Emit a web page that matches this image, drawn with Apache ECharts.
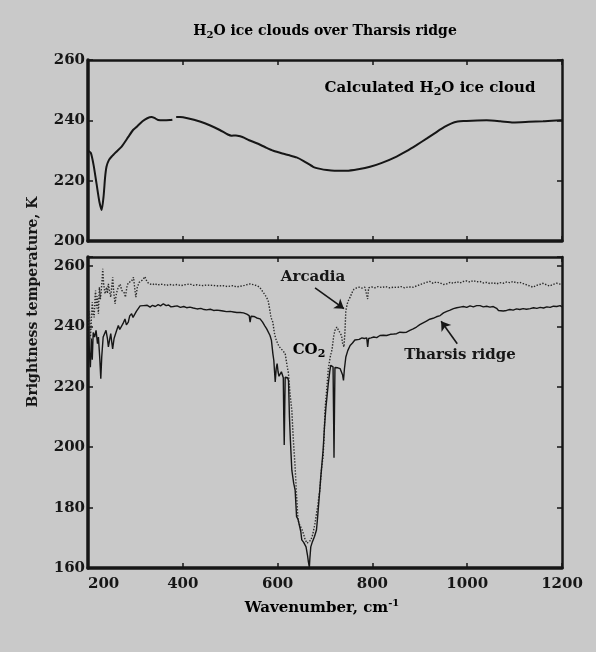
<!DOCTYPE html>
<html><head><meta charset="utf-8">
<script src="https://cdn.jsdelivr.net/npm/echarts@6/dist/echarts.min.js"></script>
<style>html,body{margin:0;padding:0;background:#c9c9c9}#c{width:596px;height:652px}</style>
</head><body><div id="c"></div>
<script>
// ---- data (wavenumber cm^-1, brightness temperature K) ----
const xTicks = [200, 400, 600, 800, 1000, 1200];
const calcCloud = [[200,230],[206,229.2],[212,225],[218,219],[224,213],[229,210.3],[233,215],[236,221],[239,224.6],[244,226.8],[250,228],[260,229.6],[271,231.3],[285,234.5],[295,236.8],[303,237.9],[315,239.7],[325,240.7],[334,241.1],[340,240.8],[348,240.1],[360,240],[373,240.1],[378,240.2],[381,null],[386,241.1],[394,241.1],[410,240.7],[436,239.6],[458,238.3],[478,236.8],[495,235.3],[503,234.9],[512,235],[521,234.7],[530,234.2],[540,233.4],[556,232.4],[575,231],[591,229.9],[610,229],[625,228.4],[640,227.7],[655,226.5],[675,224.6],[690,223.9],[704,223.5],[720,223.3],[746,223.3],[770,223.8],[795,224.6],[820,225.9],[851,228],[872,229.8],[893,231.8],[915,234],[936,236.2],[952,237.8],[967,239],[980,239.6],[992,239.8],[1010,239.9],[1041,240],[1070,239.7],[1097,239.3],[1130,239.5],[1160,239.7],[1196,240],[1200,240]];
const tharsis = [[201,240],[203,231],[205,226.5],[207,236],[209,229],[211,238],[214,236.5],[217,238.7],[220,234.3],[222,236.5],[225,229],[227,222.7],[229,230],[232,236.5],[235,237],[238,238.7],[241,236],[243,233.2],[246,236],[248,237.6],[250,235],[252,232.6],[255,236],[257,237],[260,238.5],[264,240.3],[267,239],[271,238.7],[274,241],[278,242.5],[281,240.5],[285,241.4],[288,243.5],[292,244.2],[295,243],[299,242.5],[302,245],[306,245.9],[310,246.8],[314,246.2],[317,246.9],[321,246.3],[325,247],[331,246.4],[336,247],[342,246.6],[348,247.2],[353,246.8],[359,247.5],[365,246.9],[370,247.1],[375,246.5],[380,246.6],[388,246.8],[395,246.3],[402,246.6],[408,246.2],[415,246.4],[422,246.1],[430,245.8],[438,246],[445,245.6],[450,245.5],[458,245.7],[465,245.3],[472,245.4],[478,245.3],[485,245.1],[492,244.9],[500,245],[507,244.8],[514,244.6],[521,244.6],[528,244.5],[535,244.1],[540,243.6],[542,241.4],[544,243.4],[550,243.3],[556,242.8],[563,242.5],[568,241.5],[573,240.2],[577,239.2],[580,238.7],[584,237],[587,235.4],[590,231],[592,228.8],[594,224],[595,221.6],[597,226],[599,227.7],[601,225],[603,223.5],[605,223.2],[608,225],[610,224.9],[612,223],[613,210],[614,200.7],[615,212],[616,223.2],[619,223.5],[621,223],[623,222.1],[625,210],[627,202.3],[630,192.4],[634,188],[637,185.8],[639,180],[640,177],[643,176.2],[647,175.9],[649,172],[651,169.3],[655,168.5],[658,168],[660,167],[663,164.3],[665,162],[667,160.2],[668,163],[670,167],[673,168.5],[675,169.3],[678,170.5],[682,172.6],[684,176],[686,180],[689,185.8],[691,190],[693,193.5],[696,199],[699,207],[702,213.3],[705,218],[707,221.1],[710,225],[712,227.1],[715,226.8],[717,226.6],[718,212],[719,196.5],[720,212],[721,226.4],[723,226],[727,226.3],[730,225.8],[732,226],[735,225.5],[737,224],[739,222.1],[741,226],[744,229.9],[748,232],[753,233.7],[758,234.5],[763,235.5],[767,235.9],[772,235.7],[778,236.2],[783,236],[788,236.2],[790,233.2],[792,236],[797,236.2],[803,236.5],[809,236.3],[816,237],[823,237.1],[830,237],[838,237.4],[845,237.5],[851,237.6],[858,238.1],[865,238],[872,238.1],[879,238.7],[886,239.2],[893,239.8],[900,240.6],[907,241.2],[914,241.8],[921,242.4],[928,242.7],[935,243.2],[943,243.6],[950,244.5],[957,245],[964,245.4],[971,245.9],[978,246.2],[985,246.4],[992,246.6],[999,246.3],[1006,246.8],[1013,246.5],[1020,246.9],[1027,246.9],[1034,246.5],[1041,246.7],[1048,246.4],[1055,246.6],[1062,246],[1066,245.3],[1070,245.1],[1076,245.1],[1083,245.3],[1090,245.6],[1097,245.4],[1104,245.8],[1111,245.6],[1118,245.9],[1125,245.7],[1133,245.9],[1140,246.2],[1147,246],[1154,246.3],[1161,246.1],[1168,246.5],[1175,246.3],[1182,246.7],[1189,246.6],[1196,246.9],[1200,246.5]];
const arcadia = [[201,238],[203,245],[205,236],[207,242],[209,248],[211,244],[213,243],[215,250],[216,251.9],[218,246],[220,250],[222,244.2],[224,253],[226,249],[228,252],[230,256],[231,259.1],[233,254],[236,250.8],[239,253],[241,251],[243,254.1],[245,252],[248,249.7],[250,253],[252,256.3],[254,252],[257,247.5],[260,251],[264,253],[268,254],[271,252],[274,252.5],[277,251],[279,249.7],[282,253],[285,254.5],[288,254.1],[292,255],[296,256.3],[299,252],[301,249.7],[304,253],[308,254.6],[312,254],[316,255.5],[320,256.5],[324,255],[328,254.2],[331,254.1],[336,253.8],[341,254.2],[347,253.7],[353,254],[359,253.9],[365,253.6],[372,253.9],[380,253.7],[388,253.9],[396,253.5],[404,253.8],[415,254.1],[422,253.6],[430,253.8],[440,253.5],[450,253.7],[464,253.6],[475,253.4],[485,253.5],[495,253.2],[505,253.5],[514,253.1],[521,253.3],[530,253.6],[542,254.1],[550,253.8],[558,253.4],[563,252.8],[566,252.5],[572,250.8],[576,249.8],[580,248.6],[583,246],[586,243],[590,241.4],[593,238],[596,236],[599,234.8],[603,233.4],[608,232.5],[612,231.8],[616,231],[618,229],[620,227],[623,224.4],[626,218],[630,212.2],[633,203],[637,193.5],[640,184],[643,175.9],[646,174.5],[649,175],[652,172.5],[654,171.6],[658,169.5],[662,168.2],[666,168],[670,169.2],[674,171],[679,174.8],[684,180],[689,185.8],[693,193.5],[696,196.8],[698,203],[700,212.2],[704,220],[707,226],[711,229.9],[715,232.5],[718,236.5],[721,238.7],[725,239.8],[729,238.6],[732,239.2],[735,237],[737,234.5],[740,233.2],[742,238],[744,245.3],[747,247.5],[750,248.8],[753,249.7],[757,251.2],[761,252.3],[767,252.8],[772,253],[778,252.7],[784,253],[788,253],[790,249.1],[792,252.8],[798,253.1],[805,252.8],[812,253.2],[820,252.9],[828,253.2],[836,252.8],[844,253],[852,252.9],[860,253.2],[868,252.8],[876,253.1],[886,253],[893,253.4],[900,253.8],[907,254.2],[914,254.6],[921,254.9],[928,254.3],[935,254.7],[943,254.4],[950,253.9],[957,254.1],[964,254.6],[971,254.3],[978,254.8],[985,254.4],[992,254.9],[999,255.1],[1006,254.7],[1013,255.2],[1020,254.8],[1027,254.9],[1034,254.4],[1041,254.6],[1048,254.2],[1055,254.5],[1062,254.1],[1069,254.5],[1076,254.3],[1083,254.7],[1090,254.5],[1097,254.9],[1104,254.4],[1111,254.6],[1118,254.2],[1125,253.8],[1132,253.4],[1139,253],[1146,253.6],[1153,253.9],[1160,254.3],[1167,253.8],[1174,253.4],[1181,253.9],[1189,254.3],[1196,254],[1200,253.8]];
const arcadiaArrow = [[679,252.8],[740,245.9]];
const tharsisArrow = [[979,234.3],[945,241.7]];
const titleText = '{a|H}{s|2}{a|O ice clouds over Tharsis ridge}';
const calcLabel = '{a|Calculated H}{s|2}{a|O ice cloud}';
const yName = 'Brightness temperature, K';
const xName = '{a|Wavenumber, cm}{p|-1}';

// ---- styling ----
const FF = 'DejaVu Serif';
const INK = '#161616';
function rich(size) {
  return {
    a: {fontFamily: FF, fontSize: size, fontWeight: 'bold', color: INK, lineHeight: 20},
    s: {fontFamily: FF, fontSize: size - 4, fontWeight: 'bold', color: INK, padding: [8, 0, 0, 0]},
    p: {fontFamily: FF, fontSize: size - 5, fontWeight: 'bold', color: INK, padding: [0, 0, 9, 0]}
  };
}
function xAx(grid, pos, labels) {
  return {
    type: 'value', gridIndex: grid, position: pos, min: xTicks[0], max: xTicks[xTicks.length - 1], interval: 200,
    axisLine: {show: true, onZero: false, lineStyle: {color: INK, width: pos === 'bottom' ? 3.5 : 2.5}},
    axisTick: {show: true, inside: true, length: 5, lineStyle: {color: INK, width: 1.5}},
    axisLabel: {show: labels, margin: 9, color: INK, fontFamily: FF, fontSize: 15, fontWeight: 'bold',
      alignMinLabel: 'left', formatter: v => String(v)},
    splitLine: {show: false}
  };
}
function yAx(grid, pos, min, max, labels) {
  return {
    type: 'value', gridIndex: grid, position: pos, min: min, max: max, interval: 20,
    axisLine: {show: true, onZero: false, lineStyle: {color: INK, width: pos === 'left' ? 3.5 : 2.5}},
    axisTick: {show: true, inside: true, length: 5, lineStyle: {color: INK, width: 1.5}},
    axisLabel: {show: labels, margin: 3, color: INK, fontFamily: FF, fontSize: 15, fontWeight: 'bold',
      formatter: v => (v % 20 === 0 ? String(v) : '')},
    splitLine: {show: false}
  };
}
const toSeries = arr => arr.map(p => [p[0], p[1] === null ? '-' : p[1]]);

const chart = echarts.init(document.getElementById('c'), null, {renderer: 'canvas'});
chart.setOption({
  animation: false,
  backgroundColor: '#c9c9c9',
  grid: [
    {left: 88, right: 34, top: 60, height: 181},
    {left: 88, right: 34, top: 257, height: 311}
  ],
  xAxis: [xAx(0, 'bottom', false), xAx(0, 'top', false), xAx(1, 'bottom', true), xAx(1, 'top', false)],
  yAxis: [yAx(0, 'left', 200, 260, true), yAx(0, 'right', 200, 260, false), yAx(1, 'left', 160, 263, true), yAx(1, 'right', 160, 263, false)],
  series: [
    {type: 'line', xAxisIndex: 0, yAxisIndex: 0, data: toSeries(calcCloud), symbol: 'none', smooth: 0.2,
      connectNulls: false, lineStyle: {color: INK, width: 2}},
    {type: 'line', xAxisIndex: 2, yAxisIndex: 2, data: toSeries(arcadia), symbol: 'none',
      lineStyle: {color: '#2a2a2a', width: 1.4, type: [1.4, 1.6]}},
    {type: 'line', xAxisIndex: 2, yAxisIndex: 2, data: toSeries(tharsis), symbol: 'none',
      lineStyle: {color: INK, width: 1.4},
      markLine: {silent: true, animation: false, symbol: ['none', 'arrow'], symbolSize: 9,
        label: {show: false}, lineStyle: {color: INK, width: 1.6, type: 'solid'},
        data: [
          [{coord: arcadiaArrow[0]}, {coord: arcadiaArrow[1]}],
          [{coord: tharsisArrow[0]}, {coord: tharsisArrow[1]}]
        ]}}
  ],
  graphic: [
    {type: 'text', x: 325, y: 31, style: {text: titleText, rich: rich(14), align: 'center', verticalAlign: 'middle'}},
    {type: 'text', x: 430, y: 88, style: {text: calcLabel, rich: rich(15), align: 'center', verticalAlign: 'middle'}},
    {type: 'text', x: 313, y: 277, style: {text: 'Arcadia', fill: INK, font: 'bold 15px "DejaVu Serif"', align: 'center', verticalAlign: 'middle'}},
    {type: 'text', x: 309, y: 350, style: {text: '{a|CO}{s|2}', rich: rich(15), align: 'center', verticalAlign: 'middle'}},
    {type: 'text', x: 460, y: 355, style: {text: 'Tharsis ridge', fill: INK, font: 'bold 15px "DejaVu Serif"', align: 'center', verticalAlign: 'middle'}},
    {type: 'text', x: 33, y: 302, rotation: Math.PI / 2, style: {text: yName, fill: INK, font: 'bold 14px "DejaVu Serif"', align: 'center', verticalAlign: 'middle'}},
    {type: 'text', x: 322, y: 608, style: {text: xName, rich: rich(15), align: 'center', verticalAlign: 'middle'}}
  ]
});
</script></body></html>
